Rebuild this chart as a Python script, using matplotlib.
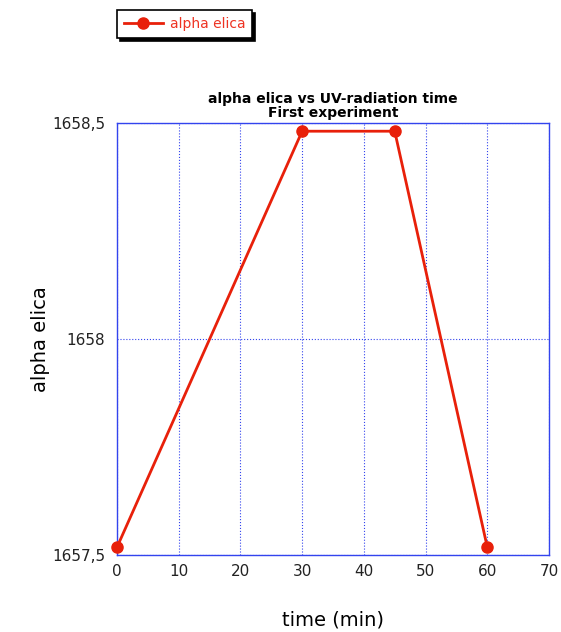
import matplotlib
matplotlib.use("Agg")
import matplotlib.pyplot as plt
from matplotlib.ticker import FuncFormatter

time_min = [0, 30, 45, 60]
alpha_elica = [1657.518, 1658.481, 1658.481, 1657.518]
x_ticks = [0, 10, 20, 30, 40, 50, 60, 70]
y_ticks = [1657.5, 1658.0, 1658.5]

fig = plt.figure(figsize=(5.61, 6.32), dpi=100)
ax = fig.add_axes([117/561, 77/632, 432/561, 432/632])

red = "#e8200a"
blue = "#3344ee"
line, = ax.plot(time_min, alpha_elica, color=red, lw=2, marker="o", ms=8, label="alpha elica")
line.set_zorder(5)
line.set_clip_on(False)

ax.set_xlim(0, 70)
ax.set_ylim(1657.5, 1658.5)
ax.set_xticks(x_ticks)
ax.set_yticks(y_ticks)

def yfmt(v, pos):
    return ("%g" % v).replace(".", ",")
ax.yaxis.set_major_formatter(FuncFormatter(yfmt))
ax.tick_params(length=0, labelsize=11, colors="#222222")
ax.tick_params(axis="y", pad=8.5)
ax.tick_params(axis="x", pad=6.5)
for sp in ax.spines.values():
    sp.set_color(blue)
    sp.set_linewidth(1.0)
ax.grid(True, color=blue, ls=":", lw=0.8)

ax.set_title("alpha elica vs UV-radiation time\nFirst experiment", fontsize=10, fontweight="bold", pad=4, linespacing=1.0)
ax.set_xlabel("time (min)", fontsize=14, va="center")
ax.set_ylabel("alpha elica", fontsize=14, va="center")
ax.xaxis.set_label_coords(0.5, -(620 - 555) / 432)
ax.yaxis.set_label_coords((40 - 117) / 432, 0.5)

leg = fig.legend(handles=[line], loc="upper left", bbox_to_anchor=(117/561, 1 - 10/632),
                 fontsize=10, frameon=True, fancybox=False,
                 shadow={"color": "black", "alpha": 1.0},
                 edgecolor="black", handlelength=2.8, borderpad=0.5, handletextpad=0.5,
                 borderaxespad=0)
leg.get_frame().set_linewidth(1.2)
for t in leg.get_texts():
    t.set_color("#ee3322")

fig.savefig("out.png", dpi=100)
